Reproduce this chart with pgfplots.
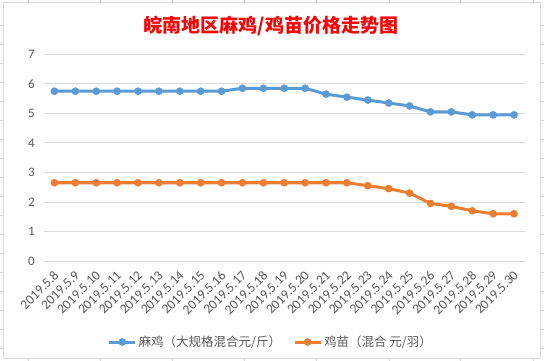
\documentclass[border=0pt]{standalone}
\usepackage{fontspec}
\setmainfont{Carlito}
\newfontfamily\cjk{Noto Sans CJK SC}
\usepackage{pgfplots}
\usepackage{pgfplotstable}
\pgfplotsset{compat=1.18}
\definecolor{cblue}{HTML}{5B9BD5}
\definecolor{corange}{HTML}{ED7D31}
\definecolor{cgrid}{HTML}{D9D9D9}
\definecolor{ctext}{HTML}{595959}
\definecolor{csheet}{HTML}{D4D4D4}

\pgfplotstableread{
x blue orange
0 5.75 2.65
1 5.75 2.65
2 5.75 2.65
3 5.75 2.65
4 5.75 2.65
5 5.75 2.65
6 5.75 2.65
7 5.75 2.65
8 5.75 2.65
9 5.85 2.65
10 5.85 2.65
11 5.85 2.65
12 5.85 2.65
13 5.65 2.65
14 5.55 2.65
15 5.45 2.55
16 5.35 2.45
17 5.25 2.30
18 5.05 1.95
19 5.05 1.85
20 4.95 1.70
21 4.95 1.60
22 4.95 1.60
}\pricedata

\begin{document}
\begin{tikzpicture}
\useasboundingbox (0pt,0pt) rectangle (544pt,361pt);
\fill[white] (0pt,0pt) rectangle (544pt,361pt);
% spreadsheet cell lines outside the chart frame
\foreach \xx in {28.8,100.7,172.5,244.8,316.7,388.9,460.8,533}{
  \draw[csheet,line width=0.8pt] (\xx pt,359pt) -- (\xx pt,361pt);
  \draw[csheet,line width=0.8pt] (\xx pt,0pt) -- (\xx pt,3pt);
}
\foreach \yy in {25,44,63,82,101,120,139,158,177,196,215,234,253,272,291,310,329,348}{
  \draw[csheet,line width=0.8pt] (0pt,361pt-\yy pt) -- (3pt,361pt-\yy pt);
  \draw[csheet,line width=0.8pt] (540pt,361pt-\yy pt) -- (544pt,361pt-\yy pt);
}
\draw[cgrid,line width=0.8pt] (3pt,3pt) rectangle (540pt,359pt);
\node[text=red, font=\cjk\bfseries\fontsize{19}{19}\selectfont] at (271pt,335pt) {皖南地区麻鸡/鸡苗价格走势图};

\begin{axis}[
  at={(44pt,100pt)}, anchor=south west,
  scale only axis, width=480.5pt, height=206.7pt,
  xmin=-0.5, xmax=22.5, ymin=0, ymax=7,
  ytick={0,1,2,3,4,5,6,7},
  xtick={0,...,22},
  xticklabels={2019.5.8,2019.5.9,2019.5.10,2019.5.11,2019.5.12,2019.5.13,2019.5.14,2019.5.15,2019.5.16,2019.5.17,2019.5.18,2019.5.19,2019.5.20,2019.5.21,2019.5.22,2019.5.23,2019.5.24,2019.5.25,2019.5.26,2019.5.27,2019.5.28,2019.5.29,2019.5.30},
  axis line style={draw=none},
  major tick length=0pt,
  ymajorgrids,
  grid style={cgrid, line width=0.8pt},
  /pgf/number format/assume math mode=true,
  yticklabel style={font=\fontsize{13}{13}\selectfont, text=ctext, inner sep=0pt, anchor=east, xshift=-9pt},
  xticklabel style={font=\fontsize{13.5}{13.5}\selectfont, text=ctext, yshift=-12pt, xshift=2pt, rotate=45, anchor=east, inner sep=0pt},
  legend style={at={(0.472,-0.392)}, anchor=center, draw=none, fill=none,
    legend columns=2, font=\cjk\fontsize{12.5}{12.5}\selectfont, text=ctext,
    /tikz/every even column/.append style={column sep=10pt}},
  legend cell align=left,
  legend image code/.code={\draw[mark repeat=2,mark phase=2,#1] plot coordinates {(0pt,0pt) (13pt,0pt) (26pt,0pt)};},
]
\addplot[cblue, line width=3pt, mark=*, mark size=3.6pt, mark options={fill=cblue, draw=cblue, line width=0.4pt, solid}] table[x=x, y=blue] {\pricedata};
\addlegendentry{麻鸡（大规格混合元/斤）}
\addplot[corange, line width=3pt, mark=*, mark size=3.6pt, mark options={fill=corange, draw=corange, line width=0.4pt, solid}] table[x=x, y=orange] {\pricedata};
\addlegendentry{鸡苗（混合 元/羽）}
\end{axis}
\end{tikzpicture}
\end{document}
